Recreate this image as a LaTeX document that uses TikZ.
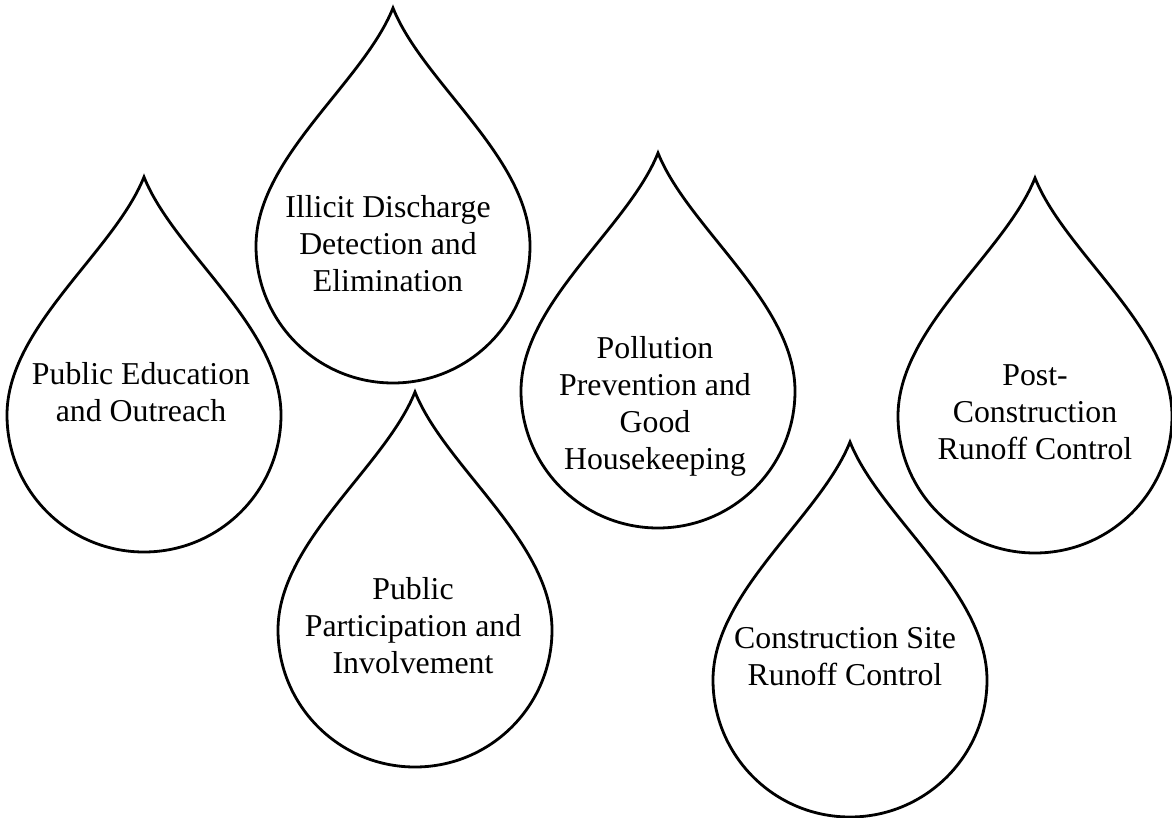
\documentclass[tikz,border=0pt]{standalone}
\usepackage{fontspec}
\setmainfont{Liberation Serif}
\begin{document}
\begin{tikzpicture}[x=0.5pt,y=0.5pt]
\tikzset{
  dropline/.style={draw=black, line width=1.4pt, miter limit=20},
  droplabel/.style={align=center, font=\fontsize{15.9}{18.5}\selectfont, inner sep=0pt},
  raindrop/.pic={
    \path[dropline] (0,-137)
      .. controls (75.7,-137) and (137,-75.7) .. (137,0)
      .. controls (137,88) and (30,163) .. (0,238)
      .. controls (-30,163) and (-137,88) .. (-137,0)
      .. controls (-137,-75.7) and (-75.7,-137) .. (0,-137) -- cycle;
  }
}
\useasboundingbox (0,0) rectangle (1172,-818);
\pic at (144,-415) {raindrop};
\pic at (393,-246) {raindrop};
\pic at (415,-630) {raindrop};
\pic at (658,-391) {raindrop};
\pic at (1035,-416) {raindrop};
\pic at (850,-680) {raindrop};
\node[droplabel] (edu) at (141,-392) {Public Education\\and Outreach};
\node[droplabel] (idde) at (388,-244) {Illicit Discharge\\Detection and\\Elimination};
\node[droplabel] (ppi) at (413,-626) {Public\\Participation and\\Involvement};
\node[droplabel] (pollution) at (655,-406) {Pollution\\Prevention and\\Good\\Housekeeping};
\node[droplabel] (post) at (1035,-412) {Post-\\Construction\\Runoff Control};
\node[droplabel] (csite) at (845,-657) {Construction Site\\Runoff Control};
\end{tikzpicture}
\end{document}
